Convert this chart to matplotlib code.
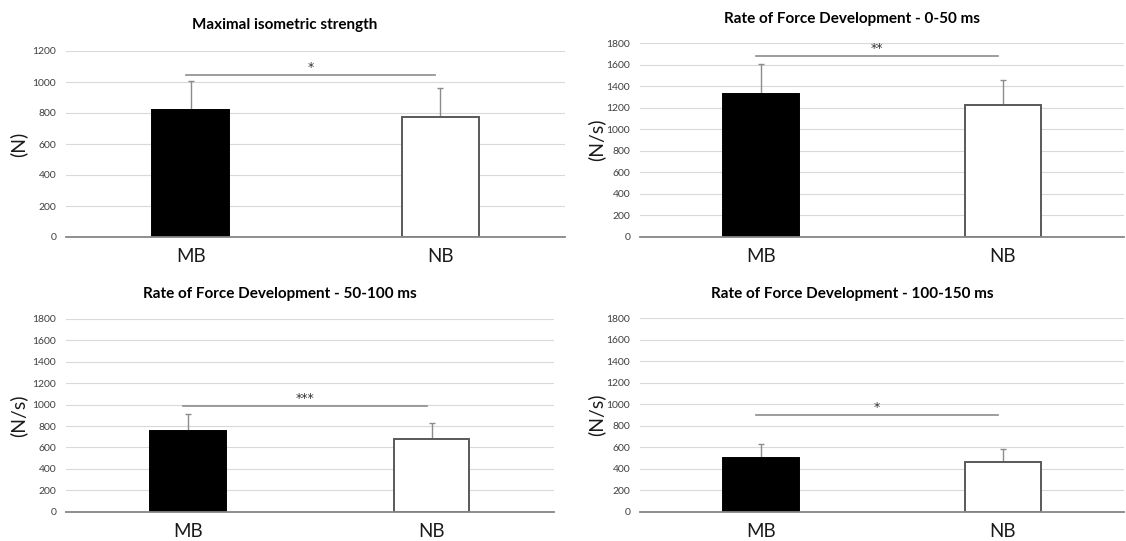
import numpy as np
import matplotlib.pyplot as plt

plt.rcParams['font.family'] = ['Lato', 'DejaVu Sans']

groups = ["MB", "NB"]

titles = ["Maximal isometric strength",
          "Rate of Force Development - 0-50 ms",
          "Rate of Force Development - 50-100 ms",
          "Rate of Force Development - 100-150 ms"]
units = ["(N)", "(N/s)", "(N/s)", "(N/s)"]

means = [[819, 772], [1325, 1229], [751, 682], [503, 465]]
sds = [[187, 191], [282, 229], [159, 146], [124, 116]]

sig_level = [1045, 1682, 990, 897]
sig_stars = ["*", "**", "***", "*"]
ymax = [1200, 1800, 1800, 1800]

W, H = 1126, 541
# plot areas in pixels: left, right, top, bottom
boxes = [(66, 565, 51, 237), (640, 1124, 43.3, 236.7),
         (66, 553.5, 319, 511.7), (640, 1124, 318.3, 511.7)]
title_pos = [(285, 25), (852, 19), (280, 294), (852, 294)]
ylab_x = [18, 596, 18, 596]

fig = plt.figure(figsize=(W / 100, H / 100), dpi=100)

for i in range(4):
    l, r, t, b = boxes[i]
    ax = fig.add_axes([l / W, 1 - b / H, (r - l) / W, (b - t) / H])
    x = np.arange(len(groups))

    ax.bar(x, means[i], width=0.31, color=["black", "white"],
           edgecolor=["black", "#595959"], linewidth=1.4, zorder=3)
    ax.errorbar(x, means[i], yerr=[[0, 0], sds[i]], fmt="none",
                ecolor="#8c8c8c", elinewidth=1, capsize=2.5, capthick=1,
                zorder=2)

    ax.plot([-0.02, 0.98], [sig_level[i], sig_level[i]], color="#8c8c8c",
            lw=1.2, zorder=2)
    ax.text(0.48, sig_level[i] + ymax[i] * 0.005, sig_stars[i],
            ha="center", va="bottom", fontsize=9, color="#333333",
            family="DejaVu Sans")

    ax.set_xlim(-0.5, 1.5)
    ax.set_ylim(0, ymax[i])
    ax.set_yticks(np.arange(0, ymax[i] + 1, 200))
    ax.set_xticks(x)
    ax.set_xticklabels(groups, fontsize=13.5, color="#1a1a1a")
    ax.tick_params(axis="y", length=0, pad=7, labelsize=7.5,
                   labelcolor="#404040")
    ax.tick_params(axis="x", length=0, pad=8)
    ax.grid(axis="y", color="#d9d9d9", lw=0.8, zorder=0)
    ax.set_axisbelow(True)
    for s in ["top", "right", "left"]:
        ax.spines[s].set_visible(False)
    ax.spines["bottom"].set_color("#868686")
    ax.spines["bottom"].set_linewidth(1.3)
    ax.spines["bottom"].set_zorder(4)

    fig.text(ylab_x[i] / W, 1 - (t + b) / 2 / H, units[i], rotation=90,
             ha="center", va="center", fontsize=14, color="#1a1a1a")
    fig.text(title_pos[i][0] / W, 1 - title_pos[i][1] / H, titles[i],
             ha="center", va="center", fontsize=11, fontweight="bold")

fig.savefig("out.png", dpi=100)
